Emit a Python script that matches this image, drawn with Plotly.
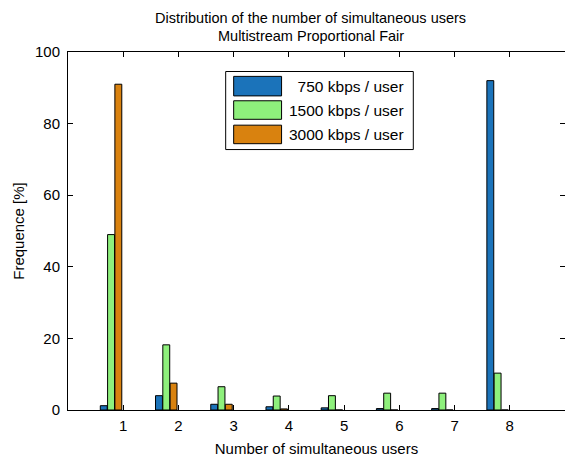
import plotly.graph_objects as go

users = [1, 2, 3, 4, 5, 6, 7, 8]
series_names = ["\u2007750 kbps / user", "1500 kbps / user", "3000 kbps / user"]
freq_750 = [1.2, 4.0, 1.6, 0.9, 0.6, 0.4, 0.4, 92.0]
freq_1500 = [49.0, 18.2, 6.5, 3.9, 4.0, 4.7, 4.7, 10.3]
freq_3000 = [91.0, 7.5, 1.6, 0.3, 0.0, 0.0, 0.0, 0.0]
colors = ["#1b73ba", "#8ef07c", "#d9820f"]
xticks = [1, 2, 3, 4, 5, 6, 7, 8]
yticks = [0, 20, 40, 60, 80, 100]
title_lines = ["Distribution of the number of simultaneous users", "Multistream Proportional Fair"]

FONT = "Liberation Sans, Arial, sans-serif"
FS = 15
OFF = 8  # page body margin
FW, FH = 565, 454
# plot area in window coordinates
L, R, T, B = 68 - OFF, 566 - OFF, 52 - OFF, 419 - OFF
W, H = R - L, B - T


def px(x):
    return (x - OFF - L) / W


def py(y):
    return (B - (y - OFF)) / H


fig = go.Figure()
bw = 0.125
step = 0.132
center_shift = -0.217
for i, (name, vals) in enumerate(zip(series_names, [freq_750, freq_1500, freq_3000])):
    fig.add_trace(go.Bar(
        x=users, y=vals, name=name,
        width=bw, offset=center_shift + (i - 1.5) * step,
        marker=dict(color=colors[i], line=dict(color="black", width=1)),
        showlegend=False,
    ))

shapes = [dict(type="rect", xref="paper", yref="paper",
               x0=px(226), x1=px(414), y0=py(152), y1=py(72),
               line=dict(color="black", width=1), fillcolor="white", layer="above")]
annotations = []
rows = [(77, 97), (102, 121), (127, 146)]
for i, (y0, y1) in enumerate(rows):
    shapes.append(dict(type="rect", xref="paper", yref="paper",
                       x0=px(234), x1=px(282), y0=py(y1), y1=py(y0),
                       line=dict(color="black", width=1), fillcolor=colors[i], layer="above"))
    annotations.append(dict(xref="paper", yref="paper", x=px(407), y=py((y0 + y1) / 2),
                            xanchor="right", yanchor="middle", showarrow=False,
                            text=series_names[i], font=dict(family=FONT, size=15.5, color="black")))

# two-line title
for line, ywin in zip(title_lines, [17, 36]):
    annotations.append(dict(xref="paper", yref="paper", x=px(311), y=py(ywin),
                            xanchor="center", yanchor="middle", showarrow=False,
                            text=line, font=dict(family=FONT, size=14.5, color="black")))

fig.update_layout(
    width=FW, height=FH,
    margin=dict(l=L, r=FW - R, t=T, b=FH - B, pad=0),
    paper_bgcolor="white", plot_bgcolor="white",
    barmode="overlay",
    font=dict(family=FONT, size=FS, color="black"),
    shapes=shapes, annotations=annotations,
    xaxis=dict(range=[0, 9], tickvals=xticks, ticktext=[str(t) for t in xticks],
               ticks="inside", ticklen=5, tickcolor="black", showline=True, linecolor="black",
               mirror="ticks", showgrid=False, zeroline=False, ticklabelstandoff=2,
               title=dict(text="Number of simultaneous users", standoff=10,
                          font=dict(family=FONT, size=FS))),
    yaxis=dict(range=[0, 100], tickvals=yticks, ticks="inside", ticklen=5, tickcolor="black",
               showline=True, linecolor="black", mirror="ticks", showgrid=False, zeroline=False,
               ticklabelstandoff=4,
               title=dict(text="Frequence [%]", standoff=6, font=dict(family=FONT, size=FS))),
)

fig.write_html("out.html")
